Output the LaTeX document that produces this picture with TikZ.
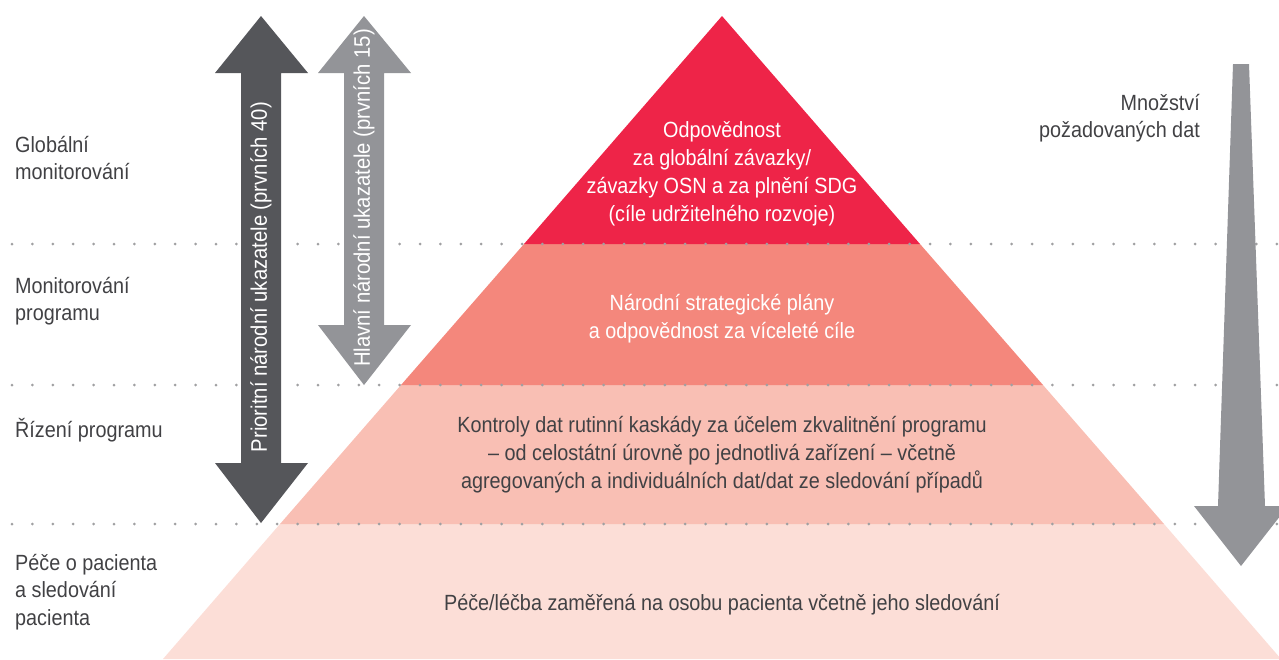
\documentclass[tikz,border=0pt]{standalone}
\usepackage{fontspec}
\setmainfont[FakeStretch=0.9]{Liberation Sans}

\definecolor{tierA}{RGB}{238,36,72}
\definecolor{tierB}{RGB}{244,135,124}
\definecolor{tierC}{RGB}{249,191,180}
\definecolor{tierD}{RGB}{252,222,215}
\definecolor{arrdark}{RGB}{85,86,90}
\definecolor{arrlight}{RGB}{147,148,152}
\definecolor{dotgrey}{RGB}{160,160,162}
\definecolor{txtgrey}{RGB}{65,65,68}

\begin{document}
\begin{tikzpicture}[x=1pt, y=-1pt,
        lbl/.style={anchor=west, align=left, inner sep=0pt, text=txtgrey,
            font=\fontsize{22}{27.5}\selectfont},
        tiertext/.style={align=center, inner sep=0pt,
            font=\fontsize{22}{28}\selectfont},
        arrtext/.style={rotate=90, inner sep=0pt, text=white,
            font=\fontsize{22.5}{27}\selectfont},
        dots/.style={draw=dotgrey, line width=3pt, line cap=round,
            dash pattern=on 0pt off 20.4pt}
    ]
    \useasboundingbox (0,0) rectangle (1279,659);

    % pyramid
    \fill[tierD] (163,659) -- (280,524) -- (1164,524) -- (1281,659) -- cycle;
    \fill[tierC] (280,524) -- (401,385) -- (1043,385) -- (1164,524) -- cycle;
    \fill[tierB] (401,385) -- (524,244) -- (920,244) -- (1043,385) -- cycle;
    \fill[tierA] (524,244) -- (722,16) -- (920,244) -- cycle;

    % level lines
    \draw[dots] (12,244) -- (1279,244);
    \draw[dots] (12,385) -- (1279,385);
    \draw[dots] (12,524) -- (1279,524);

    % arrows
    \fill[arrdark] (261,16) -- (308,73) -- (281,73) -- (281,463) -- (308,463)
        -- (261,523) -- (215,463) -- (241,463) -- (241,73) -- (215,73) -- cycle;
    \fill[arrlight] (364,16) -- (411,73) -- (384,73) -- (384,325) -- (411,325)
        -- (364,385) -- (318,325) -- (344,325) -- (344,73) -- (318,73) -- cycle;
    \fill[arrlight] (1233,64) -- (1249,64) -- (1265,506) -- (1288,506)
        -- (1241,566) -- (1194,506) -- (1218,506) -- cycle;

    \node[arrtext] (prio) at (261,277) {Prioritní národní ukazatele (prvních 40)};
    \node[arrtext] (hlav) at (364,198) {Hlavní národní ukazatele (prvních 15)};

    % levels
    \node[lbl] (glob) at (15,158) {Globální\\monitorování};
    \node[lbl] (mon) at (15,301) {Monitorování\\programu};
    \node[lbl] (riz) at (15,430) {Řízení programu};
    \node[lbl] (pece) at (15,592) {Péče o pacienta\\a sledování\\pacienta};

    \node[lbl, anchor=east, align=right] (mnoz) at (1200,118)
        {Množství\\požadovaných dat};

    % pyramid texts
    \node[tiertext, text=white] (tA) at (722,174)
        {Odpovědnost\\za globální závazky/\\závazky OSN a za plnění SDG\\(cíle udržitelného rozvoje)};
    \node[tiertext, text=white] (tB) at (722,319)
        {Národní strategické plány\\a odpovědnost za víceleté cíle};
    \node[tiertext, text=txtgrey] (tC) at (722,455)
        {Kontroly dat rutinní kaskády za účelem zkvalitnění programu\\
         – od celostátní úrovně po jednotlivá zařízení – včetně\\
         agregovaných a individuálních dat/dat ze sledování případů};
    \node[tiertext, text=txtgrey] (tD) at (722,605)
        {Péče/léčba zaměřená na osobu pacienta včetně jeho sledování};
\end{tikzpicture}
\end{document}
